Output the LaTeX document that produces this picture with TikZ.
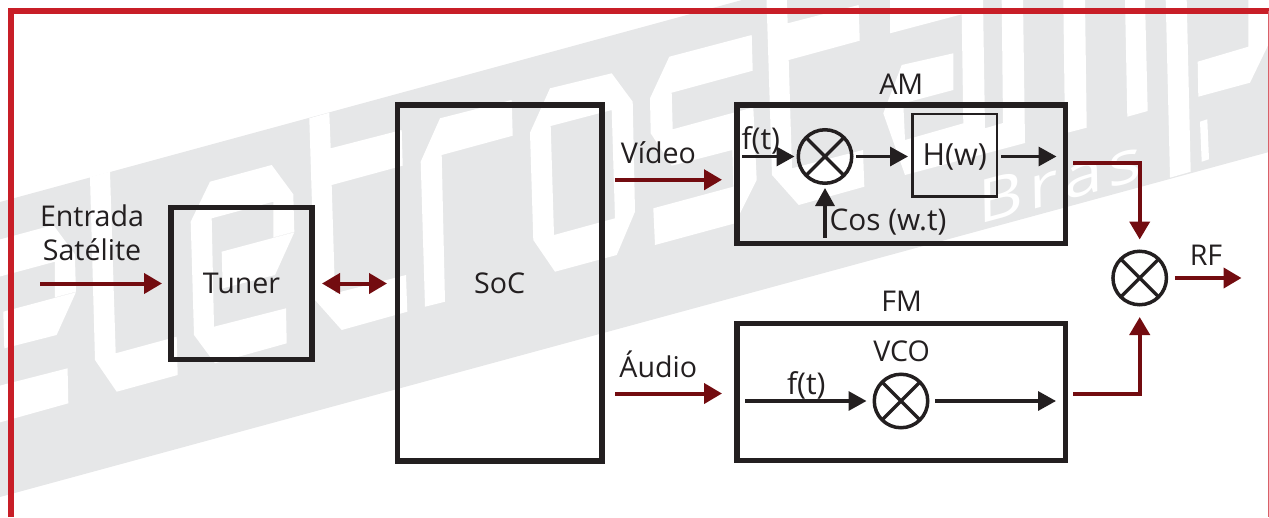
\documentclass[tikz,border=0pt]{standalone}
\usepackage{fontspec}
\setmainfont{Open Sans}
\usetikzlibrary{arrows.meta}
\definecolor{ink}{HTML}{231F20}
\definecolor{wine}{HTML}{730C10}
\definecolor{framered}{HTML}{C81E27}
\definecolor{band}{HTML}{E6E7E8}
\newcommand{\arcshape}{(190.7,221.7)--(210,181.7)--(271.7,165)--(293.3,194.3)--(294.3,231.7)--(273.3,237.3)--(273.3,201.7)--(211.7,218.3)--(214,326.7)--(286,308.3)--(286.7,343.3)--(215,363.3)--(194,335)--cycle (221.7,251.7)--(294.3,232.3)--(275,275)--(222.7,288.3)--cycle}
\newcommand{\tshape}{(309.3,118.3)--(329.3,112.7)--(330.7,148.3)--(401.7,130)--(402.7,165.7)--(331.7,185)--(335,293.3)--(406,275)--(407.3,311.7)--(341.7,330)--(315,300)--cycle}
\tikzset{
  every node/.style={text=ink,font=\fontsize{28.6}{34.3}\selectfont,inner sep=0pt,outer sep=0pt},
  blockbox/.style={draw=ink,line width=5.3pt,text height=20.5pt,text depth=0pt},
  thinbox/.style={draw=ink,line width=2.6pt,text height=20.5pt,text depth=0pt},
  mixer/.style={circle,draw=ink,line width=3.5pt,minimum size=53.5pt,
    path picture={\draw[ink,line width=3.3pt]
      ([shift={(45:30pt)}]path picture bounding box.center)--([shift={(225:30pt)}]path picture bounding box.center)
      ([shift={(135:30pt)}]path picture bounding box.center)--([shift={(315:30pt)}]path picture bounding box.center);}},
  lbl/.style={anchor=base},
  wire/.style={draw=wine,line width=4pt,-{Triangle[length=18pt,width=20pt]}},
  wirebi/.style={draw=wine,line width=4pt,{Triangle[length=18pt,width=20pt]}-{Triangle[length=18pt,width=20pt]}},
  sig/.style={draw=ink,line width=3.3pt,-{Triangle[length=18pt,width=19pt]}},
  wm/.style={fill=white,draw=none}
}
\begin{document}
\begin{tikzpicture}[x=1pt,y=-1pt]
\useasboundingbox (0,0) rectangle (1269,517);
% watermark band
\fill[band] (0,202)--(742,0)--(1269,0)--(1269,152)--(0,497)--cycle;
\fill[wm] \arcshape;
\begin{scope}[shift={(-218.4,60)}]\fill[wm] \arcshape;\end{scope}
\fill[wm] (90,177)--(110,171.7)--(115.7,353.3)--(176.7,336.7)--(177.7,375)--(116.7,391.7)--(95,360)--cycle;
\fill[wm] \tshape;
\begin{scope}[shift={(457,-125)}]\fill[wm] \tshape;\end{scope}
\fill[wm] (420.7,161.7)--(440,118.3)--(511.7,100)--(512.7,135.7)--(441.7,155)--(445,301.7)--(425,306.7)--cycle;
\fill[wm,even odd rule] (530,132.7)--(550,88.3)--(611.7,73.3)--(632.7,101.7)--(635,211.7)--(616.7,255)--(555,271.7)--(533.3,240)--cycle
  (550.7,126)--(611.7,110)--(615,218.3)--(554,235)--cycle;
\fill[wm] (650,98.3)--(669.3,56.7)--(751.7,35)--(752.7,70.7)--(671.7,92.7)--(672.7,129.3)--(753.3,107.3)--(756.7,180)--(735,223.3)--(655,245)--(653.3,208.3)--(733.3,186.7)--(732.3,150)--(671.7,165.7)--(650.7,133.3)--cycle;
\fill[wm] (883.3,113.3)--(901.7,65)--(953.3,53.3)--(953.3,90)--(903.3,103.3)--(905,140)--(963.3,123.3)--(961.7,14.3)--(890,33.3)--(890,0)--(983,0)--(985,128.3)--(1003,123)--(1001.7,0)--(1023,0)--(1025,143)--(905,175)--cycle;
\fill[wm] (1063.3,0)--(1085,0)--(1086.7,127.7)--(1065,133.3)--cycle;
\fill[wm] (1125,0)--(1145,0)--(1147.7,111)--(1127.3,116.7)--cycle;
\fill[wm] (1165.7,0)--(1186.7,0)--(1190.7,171.7)--(1170,177.7)--cycle;
\fill[wm] (1200,121.7)--(1207.3,119.3)--(1209,159.3)--(1201.7,161.7)--cycle;
\fill[wm] (1197.7,61.7)--(1248.3,46.7)--(1248.3,0)--(1269,0)--(1269,43.3)--(1250,82.7)--(1198.3,96.7)--cycle;
\node[anchor=base west,text=white,font=\fontsize{58}{64}\selectfont,transform shape,rotate=15,xslant=0.25,xscale=1.25] (brasmark) at (978,224) {B\hspace{5pt}r\hspace{5pt}a\hspace{5pt}s};
% frame
\draw[framered,line width=5.7pt] (10.8,517)--(10.8,11.2)--(1269,11.2);
\draw[framered!70!white,line width=1pt] (1268.5,11)--(1268.5,517);
% blocks
\node[blockbox,minimum width=141pt,minimum height=152pt] (tuner) at (241.5,283.5) {Tuner};
\node[blockbox,minimum width=204.5pt,minimum height=356pt] (soc) at (499.75,283) {SoC};
\node[blockbox,minimum width=328.5pt,minimum height=138.5pt] (am) at (901.25,174.25) {};
\node[blockbox,minimum width=328.5pt,minimum height=137pt] (fm) at (901.25,392) {};
\node[thinbox,minimum width=84.5pt,minimum height=82.5pt,font=\fontsize{30.5}{34}\selectfont] (hw) at (954.75,155.25) {H(w)};
\node[mixer] (mixam) at (825,156.5) {};
\node[mixer] (mixfm) at (901,401) {};
\node[mixer] (mixrf) at (1139.7,278) {};
% labels
\node[align=center,anchor=center] (inlabel) at (92,232.5) {Entrada\\Satélite};
\node[lbl] (amlabel) at (901.2,94) {AM};
\node[lbl] (fmlabel) at (901.7,311.7) {FM};
\node[lbl] (vcolabel) at (901.7,361.7) {VCO};
\node[lbl] (videolabel) at (658.3,163.3) {Vídeo};
\node[lbl] (audiolabel) at (658.3,377.3) {Áudio};
\node[lbl,font=\fontsize{30}{34}\selectfont] (ftam) at (760.8,149.3) {f(t)};
\node[lbl,font=\fontsize{30}{34}\selectfont] (ftfm) at (806.3,394.3) {f(t)};
\node[lbl,font=\fontsize{29.8}{34}\selectfont] (coslabel) at (888,230.7) {Cos (w.t)};
\node[lbl] (rflabel) at (1206,265) {RF};
% free ends
\coordinate (satin) at (40,283.5);
\coordinate (amin) at (742,156.5);
\coordinate (amoutend) at (1056.5,156.5);
\coordinate (cosin) at (825,237.5);
\coordinate (fmin) at (745.3,401);
\coordinate (fmoutend) at (1056,401);
\coordinate (rfout) at (1241.5,278);
% connectors
\draw[wire,shorten >=9pt] (satin)--(tuner.west);
\draw[wirebi,shorten <=10pt,shorten >=10.5pt] (tuner.east)--(tuner.east-|soc.west);
\draw[wire,shorten <=13pt,shorten >=15pt] ([yshift=103.25pt]soc.east)--([yshift=-5.5pt]am.west);
\draw[wire,shorten <=13pt,shorten >=15pt] ([yshift=-110.5pt]soc.east)--([yshift=-1.5pt]fm.west);
\draw[sig,shorten >=3.75pt] (amin)--(mixam.west);
\draw[sig,shorten <=4.25pt,shorten >=4.5pt] (mixam.east)--(mixam.east-|hw.west);
\draw[sig,shorten <=4pt] (amoutend-|hw.east)--(amoutend);
\draw[sig,shorten >=4.75pt] (cosin)--(mixam.south);
\draw[sig,shorten >=7.75pt] (fmin)--(mixfm.west);
\draw[sig,shorten <=7.25pt] (mixfm.east)--(fmoutend);
\draw[wire,shorten <=7.5pt,shorten >=11.75pt] ([yshift=11.75pt]am.east)-|(mixrf.north);
\draw[wire,shorten <=7.5pt,shorten >=12.25pt] ([yshift=-2pt]fm.east)-|(mixrf.south);
\draw[wire,shorten <=8.5pt] (mixrf.east)--(rfout);
\end{tikzpicture}
\end{document}
